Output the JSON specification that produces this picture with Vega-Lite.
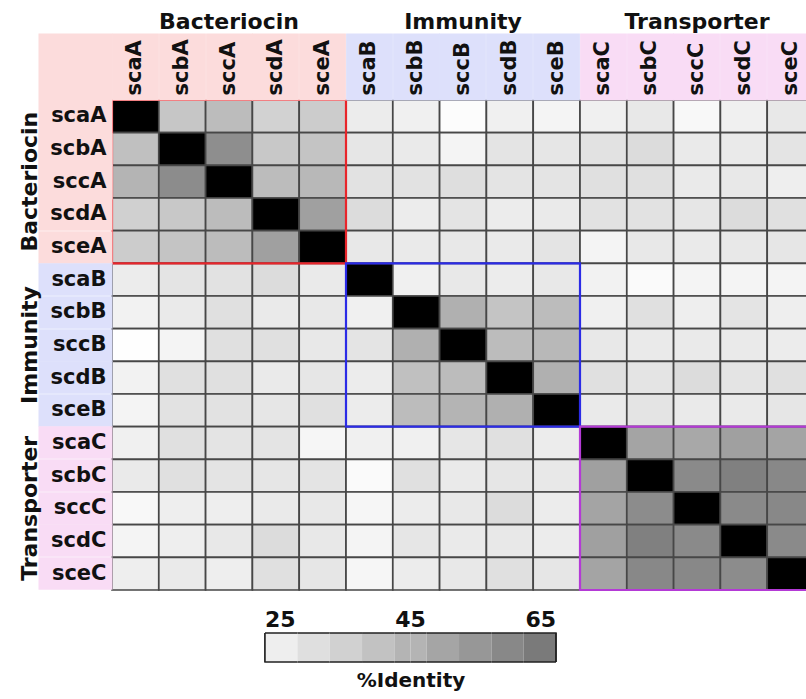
{
  "$schema": "https://vega.github.io/schema/vega-lite/v6.json",
  "autosize": {"type": "none"},
  "width": 694,
  "height": 490,
  "padding": {"left": 112, "top": 100, "right": 0, "bottom": 109},
  "background": "white",
  "config": {"view": {"stroke": null}, "font": "DejaVu Sans"},
  "datasets": {
    "identity": [
      {"r": "scaA", "scaA": 100, "scbA": 39.4, "sccA": 42.5, "scdA": 35.8, "sceA": 37.6, "scaB": 27.8, "scbB": 26.6, "sccB": 22.9, "scdB": 26.6, "sceB": 25.4, "scaC": 26.6, "scbC": 29.0, "sccC": 24.1, "scdC": 26.6, "sceC": 29.0},
      {"r": "scbA", "scaA": 41.3, "scbA": 100, "sccA": 56.6, "scdA": 38.8, "sceA": 40.0, "scaB": 29.6, "scbB": 28.4, "sccB": 25.4, "scdB": 30.3, "sceB": 29.6, "scaC": 30.9, "scbC": 32.7, "sccC": 28.4, "scdC": 28.4, "sceC": 30.3},
      {"r": "sccA", "scaA": 44.9, "scbA": 57.2, "sccA": 100, "scdA": 42.5, "sceA": 43.7, "scaB": 30.9, "scbB": 30.9, "sccB": 32.1, "scdB": 30.3, "sceB": 30.3, "scaC": 31.5, "scbC": 31.5, "sccC": 28.4, "scdC": 29.0, "sceC": 27.2},
      {"r": "scdA", "scaA": 36.4, "scbA": 38.8, "sccA": 42.5, "scdA": 100, "sceA": 51.1, "scaB": 32.7, "scbB": 27.8, "sccB": 30.3, "scdB": 27.8, "sceB": 28.4, "scaC": 30.9, "scbC": 30.9, "sccC": 29.6, "scdC": 32.7, "sceC": 31.5},
      {"r": "sceA", "scaA": 37.6, "scbA": 40.0, "sccA": 42.5, "scdA": 51.1, "sceA": 100, "scaB": 29.0, "scbB": 28.4, "sccB": 29.0, "scdB": 28.4, "sceB": 30.3, "scaC": 25.4, "scbC": 29.0, "sccC": 28.4, "scdC": 29.0, "sceC": 29.6},
      {"r": "scaB", "scaA": 27.8, "scbA": 30.3, "sccA": 30.9, "scdA": 32.7, "sceA": 28.4, "scaB": 100, "scbB": 26.6, "sccB": 29.0, "scdB": 27.8, "sceB": 29.0, "scaC": 26.0, "scbC": 23.5, "sccC": 25.4, "scdC": 25.4, "sceC": 25.4},
      {"r": "scbB", "scaA": 26.0, "scbA": 28.4, "sccA": 31.5, "scdA": 28.4, "sceA": 29.0, "scaB": 26.6, "scbB": 100, "sccB": 46.2, "scdB": 40.0, "sceB": 42.5, "scaC": 26.6, "scbC": 31.5, "sccC": 27.2, "scdC": 30.3, "sceC": 27.2},
      {"r": "sccB", "scaA": 22.3, "scbA": 25.4, "sccA": 31.5, "scdA": 31.5, "sceA": 29.0, "scaB": 30.3, "scbB": 46.2, "sccB": 100, "scdB": 42.5, "sceB": 43.7, "scaC": 29.0, "scbC": 28.4, "sccC": 28.4, "scdC": 28.4, "sceC": 27.8},
      {"r": "scdB", "scaA": 26.0, "scbA": 31.5, "sccA": 31.5, "scdA": 28.4, "sceA": 29.6, "scaB": 27.8, "scbB": 41.3, "sccB": 42.5, "scdB": 100, "sceB": 46.2, "scaC": 31.5, "scbC": 30.3, "sccC": 32.7, "scdC": 30.3, "sceC": 31.5},
      {"r": "sceB", "scaA": 25.4, "scbA": 30.9, "sccA": 30.9, "scdA": 29.6, "sceA": 31.5, "scaB": 27.8, "scbB": 42.5, "sccB": 44.9, "scdB": 46.2, "sceB": 100, "scaC": 28.4, "scbC": 30.3, "sccC": 28.4, "scdC": 28.4, "sceC": 29.6},
      {"r": "scaC", "scaA": 26.6, "scbA": 31.5, "sccA": 30.3, "scdA": 30.3, "sceA": 24.8, "scaB": 26.6, "scbB": 26.6, "sccB": 29.6, "scdB": 31.5, "sceB": 27.8, "scaC": 100, "scbC": 49.8, "sccC": 48.6, "scdC": 51.1, "sceC": 49.8},
      {"r": "scbC", "scaA": 28.4, "scbA": 31.5, "sccA": 30.3, "scdA": 29.6, "sceA": 30.3, "scaB": 23.5, "scbB": 31.5, "sccB": 28.4, "scdB": 29.6, "sceB": 29.0, "scaC": 51.1, "scbC": 100, "sccC": 57.8, "scdC": 60.8, "sceC": 58.4},
      {"r": "sccC", "scaA": 24.1, "scbA": 27.2, "sccA": 27.2, "scdA": 28.4, "sceA": 29.0, "scaB": 24.8, "scbB": 27.8, "sccB": 29.0, "scdB": 32.7, "sceB": 27.8, "scaC": 49.8, "scbC": 57.2, "sccC": 100, "scdC": 57.8, "sceC": 58.4},
      {"r": "scdC", "scaA": 25.4, "scbA": 27.2, "sccA": 29.0, "scdA": 32.7, "sceA": 29.0, "scaB": 25.4, "scbB": 29.6, "sccB": 28.4, "scdB": 29.0, "sceB": 27.8, "scaC": 51.1, "scbC": 60.8, "sccC": 57.8, "scdC": 100, "sceC": 57.8},
      {"r": "sceC", "scaA": 27.2, "scbA": 28.4, "sccA": 27.2, "scdA": 31.5, "sceA": 29.6, "scaB": 24.8, "scbB": 27.8, "sccB": 29.0, "scdB": 31.5, "sceB": 29.6, "scaC": 49.8, "scbC": 58.4, "sccC": 58.4, "scdC": 57.2, "sceC": 100}
    ],
    "groups": [
      {"g": "Bacteriocin", "first": "scaA", "last": "sceA"},
      {"g": "Immunity", "first": "scaB", "last": "sceB"},
      {"g": "Transporter", "first": "scaC", "last": "sceC"}
    ]
  },
  "layer": [
    {
      "description": "Binned copy of the cells, hidden beneath them; it carries the stepped %Identity legend.",
      "data": {"name": "identity"},
      "transform": [
        {"fold": ["scaA", "scbA", "sccA", "scdA", "sceA", "scaB", "scbB", "sccB", "scdB", "sceB", "scaC", "scbC", "sccC", "scdC", "sceC"], "as": ["c", "v"]}
      ],
      "mark": {"type": "rect"},
      "encoding": {
        "x": {"field": "c", "type": "nominal", "axis": null,
              "scale": {"domain": ["scaA", "scbA", "sccA", "scdA", "sceA", "scaB", "scbB", "sccB", "scdB", "sceB", "scaC", "scbC", "sccC", "scdC", "sceC"], "range": [0, 702], "paddingInner": 0, "paddingOuter": 0}},
        "y": {"field": "r", "type": "nominal", "axis": null,
              "scale": {"domain": ["scaA", "scbA", "sccA", "scdA", "sceA", "scaB", "scbB", "sccB", "scdB", "sceB", "scaC", "scbC", "sccC", "scdC", "sceC"], "paddingInner": 0, "paddingOuter": 0}},
        "color": {
          "field": "v", "type": "quantitative",
          "scale": {"type": "quantize", "domain": [25, 65],
                    "range": ["#eeeeee", "#dfdfdf", "#d1d1d1", "#c2c2c2", "#b4b4b4", "#a5a5a5", "#979797", "#888888", "#7a7a7a"]},
          "legend": {
            "type": "gradient", "orient": "none", "legendX": 153, "legendY": 533,
            "direction": "horizontal", "gradientLength": 291, "gradientThickness": 29,
            "gradientStrokeColor": "#222222", "gradientStrokeWidth": 1.5,
            "values": [24.99, 25, 29.45, 33.9, 38.34, 42.78, 45, 47.23, 51.67, 56.12, 60.56, 65],
            "labelExpr": "datum.value == 25 || datum.value == 45 || datum.value == 65 ? datum.label : ''",
            "padding": 0,
            "labelFont": "DejaVu Sans", "labelFontSize": 22, "labelFontWeight": "bold", "labelColor": "#111111", "labelOffset": -52,
            "title": "%Identity", "titleOrient": "bottom", "titleAnchor": "middle",
            "titleFont": "DejaVu Sans", "titleFontSize": 20, "titleFontWeight": "bold", "titleColor": "#111111", "titlePadding": 8,
            "encode": {
              "gradient": {
                "update": {
                  "strokeDash": {"signal": "[(datum.perc2 - datum.perc) * 291 + (datum.perc2 > 0.9999 ? 29 : 0), datum.perc2 > 0.9999 ? 0 : 29, (datum.perc2 - datum.perc) * 291 + (datum.perc < 0.0001 ? 29 : 0), datum.perc < 0.0001 ? 0 : 29]"}
                }
              }
            }
          }
        }
      }
    },
    {
      "description": "Percent identity cells on a continuous white-to-black ramp.",
      "data": {"name": "identity"},
      "transform": [
        {"fold": ["scaA", "scbA", "sccA", "scdA", "sceA", "scaB", "scbB", "sccB", "scdB", "sceB", "scaC", "scbC", "sccC", "scdC", "sceC"], "as": ["c", "v"]}
      ],
      "mark": {"type": "rect", "stroke": "#474747", "strokeWidth": 1.7},
      "encoding": {
        "x": {
          "field": "c", "type": "nominal",
          "scale": {"domain": ["scaA", "scbA", "sccA", "scdA", "sceA", "scaB", "scbB", "sccB", "scdB", "sceB", "scaC", "scbC", "sccC", "scdC", "sceC"], "range": [0, 702], "paddingInner": 0, "paddingOuter": 0},
          "axis": {
            "orient": "top", "title": null, "domain": false,
            "labelAngle": -90, "labelAlign": "left", "labelBaseline": "middle",
            "labelFont": "DejaVu Sans", "labelFontWeight": "bold", "labelFontSize": 21, "labelColor": "#111111",
            "tickSize": 67, "tickWidth": 46.8, "labelPadding": -62,
            "tickColor": {"condition": [{"test": "test(/A$/, datum.value)", "value": "#fcdcdc"}, {"test": "test(/B$/, datum.value)", "value": "#dde0fb"}], "value": "#f9dcf5"}
          }
        },
        "y": {
          "field": "r", "type": "nominal",
          "scale": {"domain": ["scaA", "scbA", "sccA", "scdA", "sceA", "scaB", "scbB", "sccB", "scdB", "sceB", "scaC", "scbC", "sccC", "scdC", "sceC"], "paddingInner": 0, "paddingOuter": 0},
          "axis": {
            "orient": "left", "title": null, "domain": false,
            "labelFont": "DejaVu Sans", "labelFontWeight": "bold", "labelFontSize": 21, "labelColor": "#111111",
            "tickSize": 74, "labelPadding": -68,
            "tickWidth": {"condition": {"test": "datum.value === 'scaA'", "value": 166}, "value": 32.7},
            "tickColor": {"condition": [{"test": "test(/A$/, datum.value)", "value": "#fcdcdc"}, {"test": "test(/B$/, datum.value)", "value": "#dde0fb"}], "value": "#f9dcf5"}
          }
        },
        "color": {
          "field": "v", "type": "quantitative",
          "scale": {"domain": [22, 100], "range": ["#ffffff", "#000000"], "interpolate": "rgb", "clamp": true},
          "legend": null
        }
      }
    },
    {
      "description": "Outline around each family's diagonal block, with the family names as header axes.",
      "data": {"name": "groups"},
      "mark": {"type": "rect", "filled": false, "strokeWidth": 2.2},
      "encoding": {
        "x": {
          "field": "first", "type": "nominal", "bandPosition": 0,
          "scale": {"domain": ["scaA", "scbA", "sccA", "scdA", "sceA", "scaB", "scbB", "sccB", "scdB", "sceB", "scaC", "scbC", "sccC", "scdC", "sceC"], "range": [0, 702], "paddingInner": 0, "paddingOuter": 0},
          "axis": {
            "orient": "top", "title": null, "domain": false, "ticks": false,
            "values": ["sccA", "sccB", "sccC"],
            "labelExpr": "datum.value == 'sccA' ? 'Bacteriocin' : datum.value == 'sccB' ? 'Immunity' : 'Transporter'",
            "labelAngle": 0, "labelAlign": "center", "labelBaseline": "alphabetic", "labelPadding": 72,
            "labelFont": "DejaVu Sans", "labelFontWeight": "bold", "labelFontSize": 22, "labelColor": "#111111"
          }
        },
        "x2": {"field": "last", "bandPosition": 1},
        "y": {
          "field": "first", "type": "nominal", "bandPosition": 0,
          "scale": {"domain": ["scaA", "scbA", "sccA", "scdA", "sceA", "scaB", "scbB", "sccB", "scdB", "sceB", "scaC", "scbC", "sccC", "scdC", "sceC"], "paddingInner": 0, "paddingOuter": 0},
          "axis": {
            "orient": "left", "title": null, "domain": false, "ticks": false,
            "values": ["sccA", "sccB", "sccC"],
            "labelExpr": "datum.value == 'sccA' ? 'Bacteriocin' : datum.value == 'sccB' ? 'Immunity' : 'Transporter'",
            "labelAngle": -90, "labelAlign": "center", "labelBaseline": "alphabetic", "labelPadding": 76,
            "labelFont": "DejaVu Sans", "labelFontWeight": "bold", "labelFontSize": 22, "labelColor": "#111111"
          }
        },
        "y2": {"field": "last", "bandPosition": 1},
        "stroke": {
          "field": "g", "type": "nominal",
          "scale": {"domain": ["Bacteriocin", "Immunity", "Transporter"], "range": ["#e8252b", "#2b2be6", "#b43ad6"]},
          "legend": null
        }
      }
    }
  ],
  "resolve": {"scale": {"x": "independent", "y": "independent", "color": "independent", "stroke": "independent"}}
}
